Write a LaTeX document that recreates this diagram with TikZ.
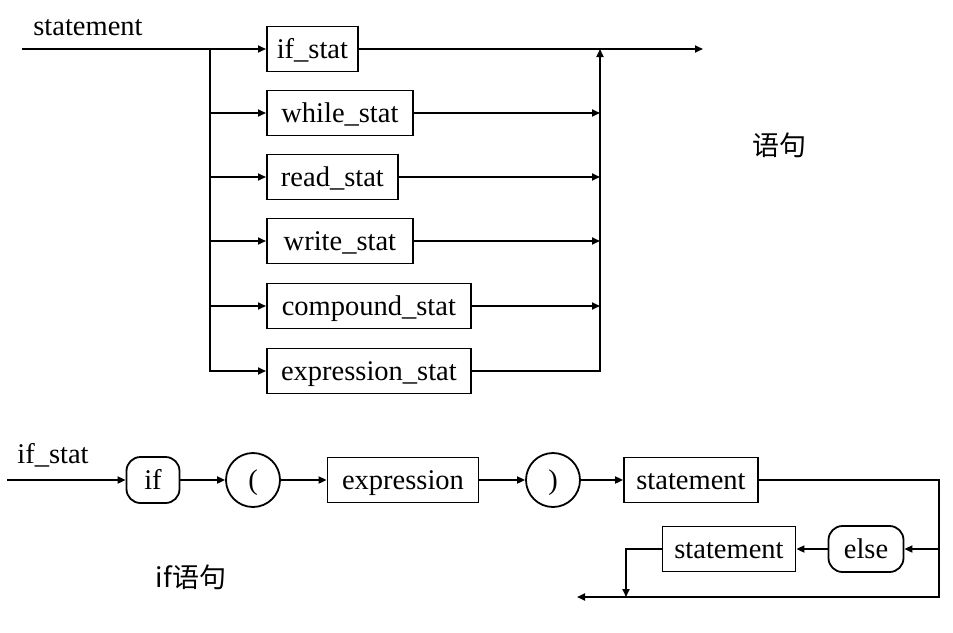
\documentclass[tikz,border=0pt]{standalone}
\usepackage{fontspec}
\setmainfont{Liberation Serif}
\newfontfamily\cjk{Noto Sans CJK SC}
\usetikzlibrary{arrows.meta}

\tikzset{
  txt/.style  = {font=\fontsize{28.5}{32}\selectfont, inner sep=0pt},
  blk/.style  = {txt, draw, line width=1.8pt, minimum height=45, text height=22, text depth=4},
  term/.style = {txt, draw, line width=1.8pt, minimum height=46, rounded corners=14, text height=22, text depth=4},
  circ/.style = {txt, draw, line width=1.8pt, circle, minimum size=54, text height=22, text depth=4},
  arr/.style  = {line width=1.8pt, -{Triangle[length=8pt,width=7pt]}},
  lin/.style  = {line width=1.8pt}
}

\begin{document}
\begin{tikzpicture}[x=1pt,y=-1pt]
%\draw [help lines, step=50](0,0) grid (953,632);
\useasboundingbox (0,0) rectangle (953,632);

\node [txt] (stmt) at ( 88, 28){statement};
\node [blk, minimum width= 91, anchor=west] (ifs) at (266, 49){if\_stat};
\node [blk, minimum width=146, anchor=west] (whs) at (266,113){while\_stat};
\node [blk, minimum width=131, anchor=west] (rds) at (266,177){read\_stat};
\node [blk, minimum width=146, anchor=west] (wrs) at (266,241){write\_stat};
\node [blk, minimum width=204, anchor=west] (cps) at (266,306){compound\_stat};
\node [blk, minimum width=204, anchor=west] (exs) at (266,371){expression\_stat};
\node [txt, font=\cjk\fontsize{27}{30}\selectfont] (yj) at (779,145){语句};

\coordinate (in)  at ( 22,49);
\coordinate (jn)  at (210,49);
\coordinate (col) at (600,49);
\coordinate (out) at (703,49);

\draw [arr](in) -- (ifs);
\draw [arr](jn) |- (exs);
\draw [arr](jn |- whs) -- (whs);
\draw [arr](jn |- rds) -- (rds);
\draw [arr](jn |- wrs) -- (wrs);
\draw [arr](jn |- cps) -- (cps);

\draw [arr](ifs) -- (out);
\draw [arr](whs) -- (whs -| col);
\draw [arr](rds) -- (rds -| col);
\draw [arr](wrs) -- (wrs -| col);
\draw [arr](cps) -- (cps -| col);
\draw [arr](exs) -| (col);

\node [txt] (ifl) at ( 53,455){if\_stat};
\node [term, minimum width= 53] (kif) at (153,480){if};
\node [circ] (lp)  at (253,480){(};
\node [blk, minimum width=151] (exp) at (403,480){expression};
\node [circ] (rp)  at (553,480){)};
\node [blk, minimum width=134] (st1) at (691,480){statement};
\node [term, minimum width= 75] (kel) at (866,549){else};
\node [blk, minimum width=133] (st2) at (729,549){statement};
\node [txt, font=\cjk\fontsize{27}{30}\selectfont] (ifyj) at (191,577){if语句};

\coordinate (bin) at (  7,480);
\coordinate (rt)  at (939,597);
\coordinate (lf)  at (626,597);
\coordinate (end) at (577,597);

\draw [arr](bin) -- (kif);
\draw [arr](kif) -- (lp);
\draw [arr](lp)  -- (exp);
\draw [arr](exp) -- (rp);
\draw [arr](rp)  -- (st1);
\draw [arr](st1) -| (rt |- kel) -- (kel);
\draw [arr](rt |- kel) -- (rt) -- (end);
\draw [arr](kel) -- (st2);
\draw [arr](st2) -| (lf);
\end{tikzpicture}
\end{document}
